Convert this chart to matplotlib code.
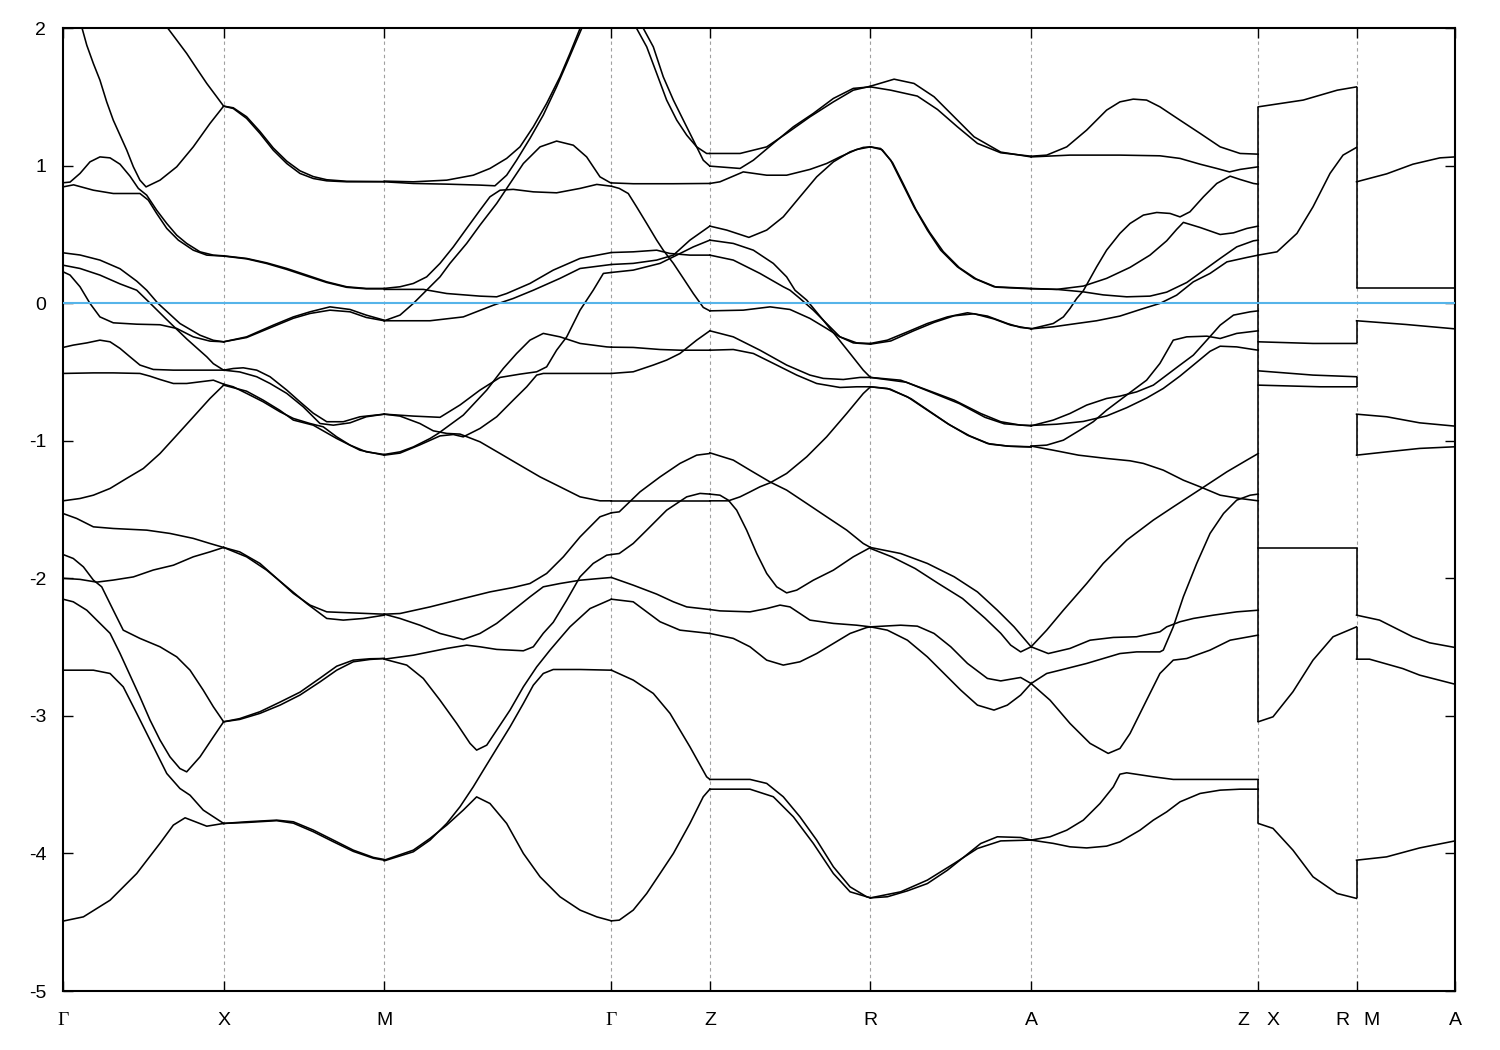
import matplotlib
matplotlib.use('Agg')
import matplotlib.pyplot as plt

plt.rcParams['font.family'] = ['Liberation Sans', 'DejaVu Sans']

# high-symmetry points along the k-path (length Gamma-X = 1)
path_k = [0.0, 1.0, 2.0, 3.414, 4.027, 5.027, 6.027, 7.441, 8.053, 8.666]
path_labels = ['Γ', 'X', 'M', 'Γ', 'Z', 'R', 'A', 'Z|X', 'R|M', 'A']
energy_ticks = [2, 1, 0, -1, -2, -3, -4, -5]
fermi_level = 0.0

# bands, one list of (k, E) per curve, grouped by path segment
gamma_x = [
    [(0, 2.45), (0.116, 2.01), (0.148, 1.875), (0.189, 1.742), (0.23, 1.621), (0.272, 1.463), (0.313, 1.33),
     (0.355, 1.221), (0.397, 1.112), (0.438, 0.991), (0.479, 0.894), (0.517, 0.845), (0.604, 0.894),
     (0.708, 0.991), (0.811, 1.136), (0.915, 1.306), (1, 1.432)],
    [(0.55, 2.16), (0.645, 2.01), (0.708, 1.912), (0.77, 1.815), (0.832, 1.706), (0.895, 1.597), (0.957, 1.5),
     (1, 1.432)],
    [(0, 0.875), (0.044, 0.88), (0.106, 0.943), (0.168, 1.027), (0.23, 1.063), (0.293, 1.056), (0.355, 1.01),
     (0.417, 0.923), (0.469, 0.834), (0.521, 0.785), (0.583, 0.676), (0.646, 0.579), (0.708, 0.494),
     (0.77, 0.434), (0.853, 0.373), (0.936, 0.349), (1, 0.344)],
    [(0, 0.845), (0.066, 0.86), (0.189, 0.821), (0.313, 0.797), (0.479, 0.797), (0.531, 0.749), (0.583, 0.652),
     (0.646, 0.543), (0.718, 0.458), (0.811, 0.385), (0.895, 0.349), (1, 0.342)],
    [(0, 0.366), (0.106, 0.35), (0.23, 0.313), (0.355, 0.25), (0.459, 0.16), (0.521, 0.094), (0.59, 0.0),
     (0.646, -0.06), (0.728, -0.148), (0.853, -0.233), (0.936, -0.27), (1, -0.281)],
    [(0, 0.276), (0.106, 0.252), (0.23, 0.204), (0.355, 0.14), (0.459, 0.094), (0.542, 0.0), (0.646, -0.12),
     (0.77, -0.26), (0.842, -0.335), (0.895, -0.39), (0.936, -0.44), (1, -0.487)],
    [(0, 0.228), (0.044, 0.204), (0.106, 0.119), (0.168, -0.002), (0.23, -0.1), (0.313, -0.143), (0.459, -0.153),
     (0.604, -0.157), (0.708, -0.184), (0.811, -0.245), (0.915, -0.276), (1, -0.281)],
    [(0, -0.322), (0.064, -0.305), (0.148, -0.289), (0.23, -0.269), (0.293, -0.281), (0.355, -0.329),
     (0.417, -0.39), (0.479, -0.45), (0.562, -0.482), (0.687, -0.487), (1, -0.487)],
    [(0, -0.511), (0.189, -0.507), (0.313, -0.507), (0.479, -0.511), (0.542, -0.531), (0.604, -0.555),
     (0.687, -0.584), (0.77, -0.584), (0.853, -0.572), (0.936, -0.56), (1, -0.589)],
    [(0, -1.437), (0.106, -1.42), (0.189, -1.396), (0.293, -1.347), (0.396, -1.274), (0.5, -1.202),
     (0.604, -1.093), (0.708, -0.96), (0.812, -0.826), (0.915, -0.693), (1, -0.596)],
    [(0, -1.529), (0.085, -1.565), (0.189, -1.626), (0.313, -1.638), (0.521, -1.65), (0.666, -1.674),
     (0.811, -1.71), (0.915, -1.747), (1, -1.776)],
    [(0, -2.0), (0.106, -2.008), (0.21, -2.028), (0.313, -2.013), (0.438, -1.99), (0.562, -1.94), (0.687, -1.905),
     (0.811, -1.844), (0.915, -1.808), (1, -1.776)],
    [(0, -1.827), (0.064, -1.856), (0.127, -1.917), (0.189, -2.013), (0.241, -2.062), (0.313, -2.232),
     (0.375, -2.377), (0.479, -2.437), (0.604, -2.498), (0.708, -2.571), (0.791, -2.668), (0.873, -2.813),
     (0.936, -2.934), (1, -3.043)],
    [(0, -2.152), (0.064, -2.171), (0.148, -2.232), (0.21, -2.304), (0.293, -2.40), (0.355, -2.546),
     (0.417, -2.704), (0.479, -2.862), (0.542, -3.031), (0.604, -3.176), (0.666, -3.298), (0.728, -3.383),
     (0.77, -3.407), (0.853, -3.298), (0.936, -3.153), (1, -3.043)],
    [(0, -2.668), (0.189, -2.668), (0.293, -2.692), (0.375, -2.789), (0.459, -2.982), (0.542, -3.176),
     (0.646, -3.419), (0.728, -3.528), (0.791, -3.577), (0.873, -3.685), (1, -3.782)],
    [(0, -4.492), (0.127, -4.461), (0.293, -4.34), (0.459, -4.146), (0.604, -3.926), (0.687, -3.794),
     (0.76, -3.741), (0.895, -3.802), (1, -3.782)],
]

x_m = [
    [(1, 1.432), (1.06, 1.415), (1.143, 1.343), (1.226, 1.234), (1.309, 1.112), (1.393, 1.015), (1.475, 0.943),
     (1.558, 0.906), (1.642, 0.889), (1.766, 0.882), (2, 0.882)],
    [(1, 1.432), (1.06, 1.42), (1.143, 1.355), (1.226, 1.248), (1.309, 1.128), (1.393, 1.032), (1.475, 0.962),
     (1.558, 0.92), (1.642, 0.897), (1.766, 0.886), (2, 0.884)],
    [(1, 0.344), (1.143, 0.325), (1.268, 0.293), (1.393, 0.252), (1.517, 0.204), (1.642, 0.155), (1.766, 0.119),
     (1.888, 0.107), (2, 0.107)],
    [(1, 0.342), (1.143, 0.322), (1.268, 0.288), (1.393, 0.245), (1.517, 0.197), (1.642, 0.15), (1.766, 0.115),
     (1.888, 0.104), (2, 0.104)],
    [(1, -0.281), (1.143, -0.245), (1.309, -0.16), (1.434, -0.1), (1.538, -0.063), (1.662, -0.027),
     (1.787, -0.046), (1.888, -0.087), (2, -0.124)],
    [(1, -0.281), (1.143, -0.25), (1.309, -0.17), (1.434, -0.11), (1.538, -0.075), (1.662, -0.051),
     (1.787, -0.063), (1.888, -0.104), (2, -0.128)],
    [(1, -0.487), (1.06, -0.475), (1.122, -0.47), (1.206, -0.487), (1.289, -0.535), (1.393, -0.632),
     (1.475, -0.717), (1.558, -0.8), (1.642, -0.862), (1.745, -0.862), (1.849, -0.826), (2, -0.807)],
    [(1, -0.487), (1.1, -0.5), (1.206, -0.535), (1.289, -0.584), (1.393, -0.656), (1.496, -0.754), (1.6, -0.875),
     (1.683, -0.887), (1.787, -0.87), (1.888, -0.826), (2, -0.807)],
    [(1, -0.589), (1.06, -0.608), (1.143, -0.656), (1.246, -0.717), (1.351, -0.79), (1.434, -0.838),
     (1.538, -0.875), (1.62, -0.899), (1.704, -0.972), (1.787, -1.032), (1.888, -1.081), (2, -1.1)],
    [(1, -0.596), (1.143, -0.64), (1.246, -0.705), (1.351, -0.78), (1.434, -0.85), (1.558, -0.887),
     (1.704, -0.984), (1.849, -1.069), (2, -1.105)],
    [(1, -1.776), (1.1, -1.808), (1.226, -1.892), (1.33, -2.0), (1.434, -2.11), (1.538, -2.195), (1.642, -2.244),
     (1.787, -2.251), (2, -2.261)],
    [(1, -1.776), (1.143, -1.844), (1.268, -1.941), (1.393, -2.062), (1.517, -2.183), (1.642, -2.292),
     (1.745, -2.304), (1.87, -2.292), (2, -2.268)],
    [(1, -3.043), (1.1, -3.026), (1.226, -2.982), (1.351, -2.922), (1.475, -2.849), (1.6, -2.753),
     (1.704, -2.668), (1.807, -2.607), (1.911, -2.59), (2, -2.583)],
    [(1, -3.043), (1.1, -3.02), (1.226, -2.97), (1.351, -2.9), (1.475, -2.828), (1.6, -2.726), (1.704, -2.639),
     (1.807, -2.595), (1.911, -2.585), (2, -2.583)],
    [(1, -3.782), (1.143, -3.77), (1.33, -3.758), (1.434, -3.77), (1.558, -3.83), (1.683, -3.903),
     (1.807, -3.976), (1.932, -4.029), (2, -4.044)],
    [(1, -3.782), (1.143, -3.775), (1.33, -3.762), (1.434, -3.78), (1.558, -3.842), (1.683, -3.915),
     (1.807, -3.985), (1.932, -4.035), (2, -4.049)],
]

m_gamma = [
    [(2, 0.887), (2.181, 0.882), (2.389, 0.894), (2.554, 0.93), (2.658, 0.979), (2.762, 1.052), (2.845, 1.136),
     (2.928, 1.282), (3.011, 1.452), (3.094, 1.645), (3.156, 1.815), (3.219, 1.997), (3.414, 2.45)],
    [(2, 0.882), (2.181, 0.87), (2.389, 0.865), (2.596, 0.858), (2.689, 0.853), (2.762, 0.93), (2.824, 1.039),
     (2.907, 1.197), (2.99, 1.367), (3.073, 1.573), (3.136, 1.742), (3.198, 1.912), (3.26, 2.08), (3.414, 2.45)],
    [(2, 0.107), (2.098, 0.119), (2.181, 0.143), (2.264, 0.191), (2.347, 0.289), (2.43, 0.409), (2.513, 0.543),
     (2.596, 0.676), (2.658, 0.773), (2.721, 0.821), (2.803, 0.827), (2.928, 0.809), (3.073, 0.802),
     (3.219, 0.834), (3.323, 0.863), (3.414, 0.85)],
    [(2, -0.128), (2.098, -0.087), (2.181, -0.002), (2.243, 0.07), (2.347, 0.191), (2.409, 0.289),
     (2.513, 0.434), (2.596, 0.567), (2.7, 0.725), (2.783, 0.87), (2.866, 1.015), (2.97, 1.136), (3.073, 1.178),
     (3.177, 1.148), (3.26, 1.063), (3.343, 0.918), (3.405, 0.877), (3.414, 0.874)],
    [(2, 0.1), (2.243, 0.1), (2.389, 0.07), (2.596, 0.051), (2.7, 0.046), (2.762, 0.07), (2.907, 0.143),
     (3.052, 0.24), (3.219, 0.325), (3.414, 0.368)],
    [(2, -0.128), (2.285, -0.128), (2.492, -0.1), (2.679, -0.015), (2.803, 0.034), (2.928, 0.094),
     (3.094, 0.18), (3.219, 0.252), (3.414, 0.281)],
    [(2, -0.807), (2.181, -0.821), (2.347, -0.83), (2.472, -0.74), (2.596, -0.632), (2.721, -0.54),
     (2.845, -0.516), (2.949, -0.499), (3.011, -0.463), (3.073, -0.342), (3.136, -0.245), (3.219, -0.051),
     (3.301, 0.094), (3.364, 0.216), (3.414, 0.223)],
    [(2, -0.807), (2.098, -0.821), (2.222, -0.875), (2.305, -0.928), (2.389, -0.947), (2.472, -0.952),
     (2.596, -1.008), (2.721, -1.093), (2.845, -1.178), (2.97, -1.263), (3.094, -1.335), (3.219, -1.408),
     (3.343, -1.437), (3.414, -1.437)],
    [(2, -1.1), (2.098, -1.081), (2.181, -1.045), (2.285, -0.984), (2.336, -0.947), (2.492, -0.814),
     (2.638, -0.632), (2.741, -0.475), (2.824, -0.366), (2.907, -0.269), (2.99, -0.22), (3.094, -0.245),
     (3.219, -0.293), (3.385, -0.318), (3.414, -0.32)],
    [(2, -1.105), (2.098, -1.09), (2.222, -1.03), (2.347, -0.965), (2.43, -0.955), (2.492, -0.972),
     (2.596, -0.911), (2.7, -0.826), (2.803, -0.705), (2.887, -0.608), (2.949, -0.523), (2.99, -0.511),
     (3.219, -0.511), (3.414, -0.511)],
    [(2, -2.261), (2.098, -2.256), (2.285, -2.208), (2.492, -2.147), (2.658, -2.099), (2.803, -2.067),
     (2.907, -2.038), (3.011, -1.965), (3.115, -1.844), (3.219, -1.699), (3.343, -1.553), (3.414, -1.524)],
    [(2, -2.261), (2.098, -2.292), (2.222, -2.341), (2.347, -2.401), (2.492, -2.445), (2.596, -2.401),
     (2.7, -2.328), (2.803, -2.232), (2.907, -2.135), (2.99, -2.062), (3.094, -2.038), (3.219, -2.014),
     (3.343, -2.001), (3.414, -1.994)],
    [(2, -2.588), (2.181, -2.559), (2.389, -2.51), (2.513, -2.486), (2.596, -2.498), (2.7, -2.517),
     (2.866, -2.527), (2.928, -2.498), (2.99, -2.40), (3.052, -2.32), (3.136, -2.159), (3.219, -1.989),
     (3.301, -1.892), (3.385, -1.832), (3.414, -1.827)],
    [(2, -2.588), (2.14, -2.631), (2.243, -2.728), (2.347, -2.886), (2.451, -3.055), (2.534, -3.2),
     (2.575, -3.249), (2.638, -3.213), (2.7, -3.104), (2.783, -2.958), (2.866, -2.789), (2.949, -2.644),
     (3.032, -2.522), (3.094, -2.437), (3.156, -2.353), (3.281, -2.22), (3.414, -2.152)],
    [(2, -4.049), (2.181, -3.976), (2.285, -3.891), (2.389, -3.794), (2.492, -3.685), (2.575, -3.589),
     (2.658, -3.637), (2.762, -3.782), (2.866, -4.0), (2.97, -4.17), (3.094, -4.315), (3.219, -4.412),
     (3.323, -4.461), (3.414, -4.49)],
    [(2, -4.054), (2.181, -3.988), (2.285, -3.903), (2.389, -3.782), (2.472, -3.66), (2.554, -3.516),
     (2.617, -3.395), (2.7, -3.237), (2.783, -3.08), (2.866, -2.91), (2.928, -2.777), (2.99, -2.692),
     (3.052, -2.663), (3.219, -2.663), (3.414, -2.668)],
]

gamma_z = [
    [(3.414, 2.45), (3.571, 1.997), (3.634, 1.863), (3.696, 1.67), (3.758, 1.476), (3.821, 1.33), (3.883, 1.221),
     (3.945, 1.136), (4.007, 1.088), (4.027, 1.088)],
    [(3.414, 2.45), (3.613, 1.997), (3.675, 1.863), (3.737, 1.645), (3.8, 1.476), (3.862, 1.33), (3.924, 1.185),
     (3.986, 1.039), (4.027, 0.996)],
    [(3.414, 0.85), (3.463, 0.834), (3.519, 0.797), (3.571, 0.70), (3.634, 0.579), (3.696, 0.458),
     (3.737, 0.385), (3.8, 0.289), (3.862, 0.18), (3.924, 0.07), (3.986, -0.031), (4.027, -0.056)],
    [(3.414, 0.874), (3.55, 0.868), (3.8, 0.868), (4.027, 0.87)],
    [(3.414, 0.368), (3.55, 0.373), (3.696, 0.385), (3.779, 0.361), (3.903, 0.349), (4.027, 0.349)],
    [(3.414, 0.281), (3.55, 0.289), (3.696, 0.313), (3.8, 0.349), (3.903, 0.458), (4.027, 0.56)],
    [(3.414, 0.223), (3.55, 0.24), (3.717, 0.289), (3.821, 0.349), (3.924, 0.409), (4.027, 0.458)],
    [(3.414, -0.32), (3.55, -0.322), (3.717, -0.337), (3.841, -0.342), (4.027, -0.342)],
    [(3.414, -0.511), (3.55, -0.499), (3.675, -0.45), (3.758, -0.414), (3.841, -0.366), (3.945, -0.269),
     (4.027, -0.201)],
    [(3.414, -1.437), (4.027, -1.437)],
    [(3.414, -1.524), (3.463, -1.517), (3.592, -1.372), (3.717, -1.263), (3.841, -1.165), (3.945, -1.105),
     (4.027, -1.093)],
    [(3.414, -1.827), (3.463, -1.82), (3.55, -1.747), (3.634, -1.65), (3.758, -1.505), (3.883, -1.408),
     (3.966, -1.383), (4.027, -1.388)],
    [(3.414, -1.994), (3.55, -2.05), (3.696, -2.115), (3.8, -2.171), (3.883, -2.208), (4.027, -2.227)],
    [(3.414, -2.152), (3.55, -2.171), (3.717, -2.316), (3.841, -2.377), (4.027, -2.401)],
    [(3.414, -2.668), (3.55, -2.74), (3.675, -2.837), (3.779, -2.982), (3.903, -3.225), (4.007, -3.443),
     (4.027, -3.462)],
    [(3.414, -4.49), (3.463, -4.485), (3.55, -4.412), (3.634, -4.291), (3.717, -4.146), (3.8, -4.0),
     (3.903, -3.782), (3.986, -3.588), (4.027, -3.533)],
]

z_r = [
    [(4.027, 1.088), (4.215, 1.088), (4.381, 1.136), (4.505, 1.234), (4.65, 1.354), (4.796, 1.463),
     (4.92, 1.548), (5.027, 1.577)],
    [(4.027, 0.996), (4.215, 0.979), (4.298, 1.039), (4.422, 1.161), (4.547, 1.282), (4.671, 1.379),
     (4.796, 1.488), (4.92, 1.561), (5.027, 1.572)],
    [(4.027, 0.87), (4.09, 0.882), (4.235, 0.954), (4.381, 0.93), (4.505, 0.93), (4.65, 0.972), (4.754, 1.015),
     (4.837, 1.063), (4.941, 1.117), (5.027, 1.136)],
    [(4.027, 0.56), (4.132, 0.531), (4.27, 0.478), (4.381, 0.531), (4.484, 0.627), (4.588, 0.773),
     (4.692, 0.918), (4.796, 1.027), (4.9, 1.10), (4.982, 1.132), (5.027, 1.136)],
    [(4.027, -0.056), (4.235, -0.051), (4.402, -0.027), (4.526, -0.046), (4.65, -0.111), (4.754, -0.184),
     (4.837, -0.245), (4.941, -0.289), (5.027, -0.293)],
    [(4.027, 0.349), (4.173, 0.313), (4.339, 0.216), (4.484, 0.119), (4.526, 0.094), (4.588, 0.034),
     (4.671, -0.051), (4.754, -0.148), (4.837, -0.245), (4.92, -0.289), (5.027, -0.298)],
    [(4.027, 0.458), (4.173, 0.434), (4.298, 0.385), (4.422, 0.289), (4.505, 0.191), (4.557, 0.094),
     (4.63, 0.022), (4.733, -0.124), (4.817, -0.245), (4.9, -0.366), (4.982, -0.487), (5.027, -0.54)],
    [(4.027, -0.201), (4.173, -0.245), (4.339, -0.342), (4.505, -0.45), (4.65, -0.523), (4.733, -0.547),
     (4.858, -0.555), (4.962, -0.54), (5.027, -0.54)],
    [(4.027, -0.342), (4.173, -0.337), (4.298, -0.366), (4.443, -0.45), (4.568, -0.523), (4.692, -0.584),
     (4.837, -0.613), (4.941, -0.608), (5.027, -0.608)],
    [(4.027, -1.088), (4.173, -1.141), (4.277, -1.214), (4.402, -1.3), (4.505, -1.359), (4.63, -1.456),
     (4.754, -1.553), (4.879, -1.65), (4.982, -1.747), (5.027, -1.776)],
    [(4.027, -1.388), (4.09, -1.396), (4.142, -1.432), (4.194, -1.505), (4.256, -1.65), (4.319, -1.82),
     (4.381, -1.965), (4.443, -2.062), (4.505, -2.106), (4.568, -2.086), (4.671, -2.014), (4.796, -1.941),
     (4.92, -1.844), (5.027, -1.776)],
    [(4.027, -1.437), (4.142, -1.437), (4.215, -1.408), (4.277, -1.372), (4.339, -1.335), (4.402, -1.306),
     (4.505, -1.238), (4.63, -1.117), (4.754, -0.972), (4.879, -0.802), (4.982, -0.657), (5.027, -0.608)],
    [(4.027, -2.227), (4.09, -2.237), (4.277, -2.244), (4.381, -2.22), (4.464, -2.195), (4.526, -2.208),
     (4.65, -2.304), (4.796, -2.328), (4.941, -2.341), (5.027, -2.353)],
    [(4.027, -2.401), (4.173, -2.437), (4.277, -2.498), (4.381, -2.595), (4.484, -2.631), (4.588, -2.607),
     (4.692, -2.547), (4.796, -2.474), (4.9, -2.401), (5.003, -2.358), (5.027, -2.353)],
    [(4.027, -3.462), (4.277, -3.462), (4.381, -3.491), (4.484, -3.588), (4.588, -3.734), (4.692, -3.903),
     (4.796, -4.097), (4.9, -4.243), (5.003, -4.315), (5.027, -4.323)],
    [(4.027, -3.533), (4.277, -3.533), (4.422, -3.588), (4.547, -3.734), (4.671, -3.927), (4.796, -4.146),
     (4.9, -4.279), (5.027, -4.323)],
]

r_a = [
    [(5.027, 1.577), (5.174, 1.628), (5.298, 1.597), (5.423, 1.50), (5.548, 1.354), (5.672, 1.209),
     (5.838, 1.098), (6.027, 1.063)],
    [(5.027, 1.572), (5.153, 1.548), (5.319, 1.505), (5.444, 1.408), (5.568, 1.282), (5.693, 1.161),
     (5.838, 1.093), (6.027, 1.068)],
    [(5.027, 1.136), (5.09, 1.124), (5.153, 1.039), (5.215, 0.894), (5.298, 0.70), (5.381, 0.531),
     (5.464, 0.385), (5.568, 0.264), (5.672, 0.18), (5.796, 0.119), (6.027, 0.107)],
    [(5.027, 1.136), (5.1, 1.115), (5.165, 1.02), (5.23, 0.87), (5.31, 0.68), (5.395, 0.515), (5.48, 0.375),
     (5.58, 0.258), (5.685, 0.176), (5.81, 0.116), (6.027, 0.104)],
    [(5.027, -0.293), (5.132, -0.269), (5.257, -0.209), (5.381, -0.148), (5.506, -0.1), (5.631, -0.07),
     (5.755, -0.094), (5.879, -0.148), (5.962, -0.177), (6.027, -0.184)],
    [(5.027, -0.298), (5.153, -0.275), (5.298, -0.2), (5.423, -0.14), (5.548, -0.092), (5.672, -0.077),
     (5.796, -0.115), (5.9, -0.16), (6.027, -0.187)],
    [(5.027, -0.54), (5.215, -0.56), (5.381, -0.632), (5.548, -0.705), (5.713, -0.802), (5.838, -0.862),
     (5.962, -0.887), (6.027, -0.889)],
    [(5.027, -0.54), (5.25, -0.575), (5.41, -0.65), (5.58, -0.73), (5.74, -0.83), (5.86, -0.877),
     (6.027, -0.892)],
    [(5.027, -0.608), (5.132, -0.62), (5.257, -0.681), (5.381, -0.778), (5.506, -0.875), (5.631, -0.96),
     (5.755, -1.02), (5.879, -1.039), (6.027, -1.044)],
    [(5.027, -0.608), (5.15, -0.625), (5.28, -0.695), (5.4, -0.79), (5.52, -0.885), (5.645, -0.965),
     (5.77, -1.025), (5.9, -1.041), (6.027, -1.046)],
    [(5.027, -1.783), (5.16, -1.844), (5.305, -1.929), (5.45, -2.038), (5.6, -2.147), (5.74, -2.29),
     (5.838, -2.40), (5.9, -2.486), (5.962, -2.535), (6.027, -2.498)],
    [(5.027, -1.776), (5.215, -1.82), (5.381, -1.892), (5.548, -1.989), (5.693, -2.099), (5.817, -2.232),
     (5.921, -2.353), (6.027, -2.498)],
    [(5.027, -2.353), (5.215, -2.341), (5.319, -2.348), (5.423, -2.401), (5.527, -2.498), (5.631, -2.619),
     (5.755, -2.728), (5.838, -2.746), (5.962, -2.721), (6.027, -2.765)],
    [(5.027, -2.353), (5.132, -2.377), (5.257, -2.45), (5.381, -2.571), (5.485, -2.692), (5.589, -2.813),
     (5.693, -2.922), (5.796, -2.958), (5.879, -2.922), (5.962, -2.849), (6.027, -2.765)],
    [(5.027, -4.323), (5.132, -4.315), (5.257, -4.272), (5.381, -4.219), (5.506, -4.122), (5.61, -4.025),
     (5.713, -3.928), (5.817, -3.879), (5.962, -3.884), (6.027, -3.903)],
    [(5.027, -4.323), (5.215, -4.279), (5.381, -4.194), (5.548, -4.073), (5.693, -3.964), (5.838, -3.909),
     (6.027, -3.903)],
]

a_z = [
    [(6.027, 1.068), (6.124, 1.076), (6.249, 1.136), (6.373, 1.258), (6.497, 1.403), (6.58, 1.463),
     (6.663, 1.483), (6.746, 1.476), (6.829, 1.427), (6.954, 1.33), (7.079, 1.234), (7.204, 1.136),
     (7.328, 1.088), (7.441, 1.083)],
    [(6.027, 1.063), (6.269, 1.076), (6.58, 1.076), (6.829, 1.071), (6.954, 1.052), (7.079, 1.01),
     (7.183, 0.979), (7.262, 0.954), (7.328, 0.972), (7.441, 0.991)],
    [(6.027, -0.187), (6.165, -0.148), (6.228, -0.1), (6.269, -0.039), (6.311, 0.034), (6.352, 0.09),
     (6.435, 0.264), (6.497, 0.385), (6.58, 0.507), (6.643, 0.579), (6.726, 0.64), (6.809, 0.659),
     (6.892, 0.652), (6.954, 0.627), (7.016, 0.664), (7.1, 0.773), (7.183, 0.87), (7.266, 0.923),
     (7.328, 0.899), (7.411, 0.87), (7.441, 0.865)],
    [(6.027, 0.104), (6.186, 0.1), (6.352, 0.124), (6.497, 0.18), (6.643, 0.26), (6.767, 0.349),
     (6.871, 0.453), (6.933, 0.536), (6.975, 0.587), (7.079, 0.55), (7.204, 0.499), (7.287, 0.511),
     (7.37, 0.543), (7.441, 0.56)],
    [(6.027, 0.107), (6.186, 0.1), (6.352, 0.082), (6.476, 0.06), (6.622, 0.046), (6.767, 0.051),
     (6.871, 0.08), (6.996, 0.15), (7.121, 0.255), (7.204, 0.325), (7.307, 0.409), (7.411, 0.453),
     (7.441, 0.458)],
    [(6.027, -0.187), (6.165, -0.172), (6.311, -0.148), (6.435, -0.128), (6.58, -0.094), (6.726, -0.039),
     (6.829, -0.002), (6.933, 0.058), (7.037, 0.155), (7.141, 0.216), (7.246, 0.3), (7.37, 0.332),
     (7.441, 0.349)],
    [(6.027, -0.892), (6.165, -0.85), (6.269, -0.802), (6.373, -0.741), (6.497, -0.693), (6.58, -0.676),
     (6.684, -0.645), (6.788, -0.596), (6.871, -0.523), (6.954, -0.45), (7.037, -0.378), (7.121, -0.269),
     (7.204, -0.16), (7.287, -0.087), (7.391, -0.063), (7.441, -0.056)],
    [(6.027, -1.039), (6.124, -1.032), (6.228, -0.996), (6.331, -0.923), (6.414, -0.862), (6.497, -0.778),
     (6.58, -0.705), (6.663, -0.632), (6.746, -0.56), (6.829, -0.438), (6.912, -0.269), (6.996, -0.245),
     (7.121, -0.24), (7.204, -0.257), (7.307, -0.22), (7.441, -0.201)],
    [(6.027, -0.889), (6.186, -0.88), (6.352, -0.86), (6.497, -0.82), (6.622, -0.76), (6.746, -0.69),
     (6.85, -0.62), (6.954, -0.53), (7.058, -0.43), (7.141, -0.35), (7.204, -0.313), (7.307, -0.318),
     (7.411, -0.337), (7.441, -0.342)],
    [(6.027, -1.039), (6.165, -1.069), (6.322, -1.105), (6.497, -1.129), (6.643, -1.146), (6.726, -1.165),
     (6.85, -1.214), (6.975, -1.287), (7.079, -1.335), (7.204, -1.396), (7.328, -1.42), (7.441, -1.437)],
    [(6.027, -2.498), (6.124, -2.377), (6.228, -2.232), (6.373, -2.038), (6.476, -1.892), (6.622, -1.723),
     (6.788, -1.577), (6.912, -1.481), (7.079, -1.354), (7.246, -1.226), (7.37, -1.141), (7.441, -1.093)],
    [(6.027, -2.498), (6.134, -2.547), (6.269, -2.51), (6.394, -2.45), (6.539, -2.43), (6.684, -2.425),
     (6.829, -2.389), (6.871, -2.353), (6.954, -2.316), (7.037, -2.292), (7.162, -2.268), (7.307, -2.244),
     (7.441, -2.232)],
    [(6.027, -2.765), (6.124, -2.692), (6.207, -2.668), (6.373, -2.619), (6.58, -2.547), (6.684, -2.535),
     (6.829, -2.535), (6.85, -2.522), (6.912, -2.353), (6.975, -2.134), (7.058, -1.892), (7.141, -1.674),
     (7.225, -1.529), (7.307, -1.432), (7.391, -1.396), (7.441, -1.388)],
    [(6.027, -2.765), (6.145, -2.886), (6.269, -3.055), (6.394, -3.2), (6.507, -3.273), (6.58, -3.237),
     (6.643, -3.128), (6.746, -2.886), (6.829, -2.692), (6.912, -2.595), (6.996, -2.583), (7.141, -2.522),
     (7.266, -2.45), (7.441, -2.413)],
    [(6.027, -3.903), (6.145, -3.879), (6.249, -3.831), (6.352, -3.758), (6.456, -3.637), (6.539, -3.516),
     (6.58, -3.424), (6.622, -3.414), (6.788, -3.443), (6.912, -3.462), (7.441, -3.462)],
    [(6.027, -3.903), (6.165, -3.927), (6.269, -3.952), (6.373, -3.96), (6.497, -3.947), (6.58, -3.916),
     (6.705, -3.831), (6.788, -3.758), (6.871, -3.698), (6.954, -3.625), (7.079, -3.564), (7.204, -3.54),
     (7.328, -3.533), (7.441, -3.533)],
]

x_r = [
    [(7.441, 1.427), (7.721, 1.476), (7.933, 1.548), (8.053, 1.572)],
    [(7.441, 0.349), (7.558, 0.373), (7.682, 0.507), (7.782, 0.70), (7.888, 0.943), (7.969, 1.076),
     (8.053, 1.132)],
    [(7.441, -0.281), (7.782, -0.293), (8.053, -0.293)],
    [(7.441, -0.492), (7.782, -0.523), (8.053, -0.535)],
    [(7.441, -0.596), (7.826, -0.608), (8.053, -0.608)],
    [(7.441, -1.778), (8.053, -1.778)],
    [(7.441, -3.043), (7.533, -3.007), (7.657, -2.825), (7.782, -2.595), (7.907, -2.425), (8.053, -2.353)],
    [(7.441, -3.782), (7.533, -3.818), (7.657, -3.976), (7.782, -4.17), (7.932, -4.291), (8.053, -4.327)],
]

m_a = [
    [(8.053, 0.882), (8.241, 0.94), (8.404, 1.01), (8.572, 1.056), (8.666, 1.063)],
    [(8.053, 0.107), (8.666, 0.107)],
    [(8.053, -0.128), (8.36, -0.155), (8.666, -0.187)],
    [(8.053, -0.807), (8.241, -0.826), (8.446, -0.87), (8.666, -0.894)],
    [(8.053, -1.105), (8.241, -1.081), (8.446, -1.056), (8.666, -1.044)],
    [(8.053, -2.268), (8.196, -2.304), (8.402, -2.425), (8.508, -2.469), (8.666, -2.503)],
    [(8.053, -2.588), (8.134, -2.588), (8.34, -2.656), (8.446, -2.704), (8.666, -2.77)],
    [(8.053, -4.049), (8.24, -4.025), (8.446, -3.96), (8.666, -3.909)],
]

# the plotted bands are joined across the two path breaks
zx_break_spans = [(1.427, -3.043), (-3.462, -3.782)]
rm_break_spans = [(1.572, 0.107), (-0.128, -0.293), (-0.535, -0.608), (-0.807, -1.105),
                  (-1.778, -2.268), (-2.353, -2.588), (-4.049, -4.327)]

fig = plt.figure(figsize=(15, 10.5), dpi=100)
ax = fig.add_axes([63 / 1500, 1 - 991 / 1050, (1455 - 63) / 1500, (991 - 28) / 1050])

for k in path_k[1:-1]:
    ax.axvline(k, color='#a0a0a0', lw=0.8, ls=(0, (3, 3)), zorder=1)

for segment in [gamma_x, x_m, m_gamma, gamma_z, z_r, r_a, a_z, x_r, m_a]:
    for curve in segment:
        ks, es = zip(*curve)
        ax.plot(ks, es, color='black', lw=1.15, solid_joinstyle='round', zorder=2)

for top, bottom in zx_break_spans:
    ax.vlines(path_k[7], bottom, top, color='black', lw=1.15, zorder=2)
for top, bottom in rm_break_spans:
    ax.vlines(path_k[8], bottom, top, color='black', lw=1.15, zorder=2)

ax.axhline(fermi_level, color='#56b4e9', lw=1.5, zorder=3)

ax.set_xlim(path_k[0], path_k[-1])
ax.set_ylim(-5, 2)

ax.set_yticks(energy_ticks)
ax.set_yticklabels([str(v) for v in energy_ticks])
ax.set_xticks(path_k)
ax.set_xticklabels([])

# k-point labels; the joined points carry two labels side by side
label_y = -0.031
for k, lab in zip(path_k, path_labels):
    if '|' in lab:
        left, right = lab.split('|')
        parts = [(k - 0.09, left), (k + 0.093, right)]
    else:
        parts = [(k, lab)]
    for x, txt in parts:
        fam = ['Liberation Serif', 'DejaVu Serif'] if txt == 'Γ' else ['Liberation Sans', 'DejaVu Sans']
        ax.text(x, label_y, txt, transform=ax.get_xaxis_transform(), ha='center', va='center',
                fontsize=14, family=fam)

ax.tick_params(direction='in', top=True, right=True, length=7, width=1.0, labelsize=14)
ax.tick_params(axis='y', pad=12)
for sp in ax.spines.values():
    sp.set_linewidth(1.5)

fig.savefig('out.png', dpi=100)
